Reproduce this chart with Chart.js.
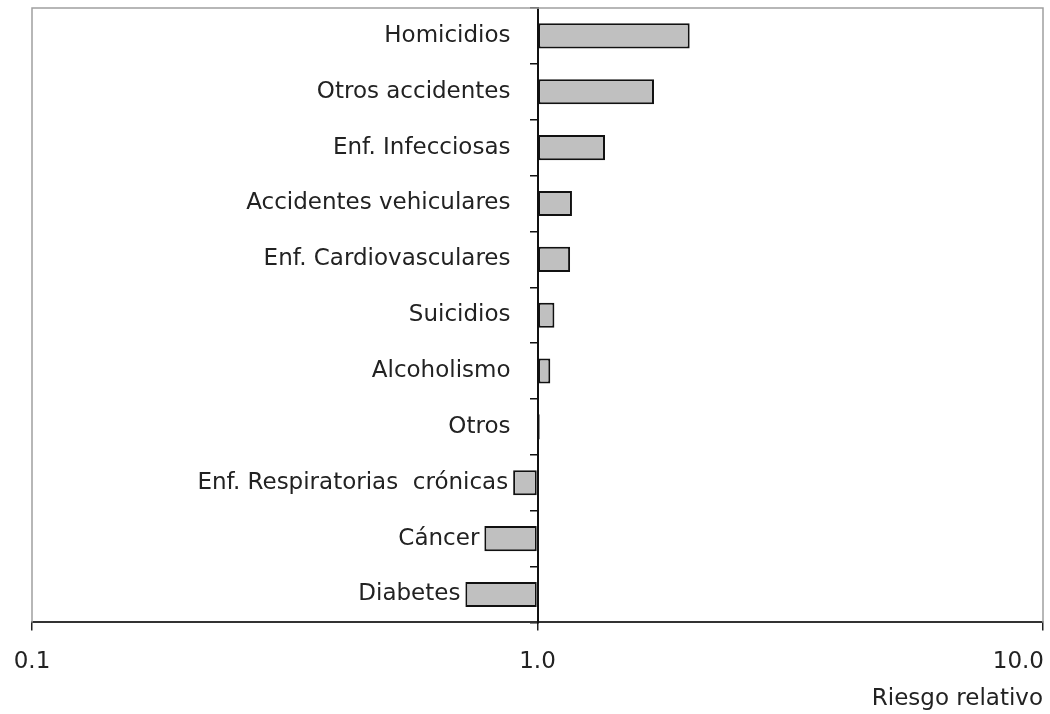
<!DOCTYPE html>
<html>
<head>
<meta charset="utf-8">
<script src="https://cdn.jsdelivr.net/npm/chart.js@4"></script>
<style>
    html, body { margin: 0; padding: 0; background: #fff; }
    #wrap { width: 1050px; height: 714px; }
</style>
</head>
<body>
<div id="wrap"><canvas id="riskChart"></canvas></div>
<script>
// Categories (top to bottom) and relative risk values
const causes = ['Homicidios', 'Otros accidentes', 'Enf. Infecciosas', 'Accidentes vehiculares',
    'Enf. Cardiovasculares', 'Suicidios', 'Alcoholismo', 'Otros',
    'Enf. Respiratorias  crónicas', 'Cáncer', 'Diabetes'];
const riskValues = [2.0, 1.70, 1.36, 1.17, 1.16, 1.08, 1.06, 1.01, 0.895, 0.785, 0.72];
const xTickValues = [0.1, 1, 10];
const xTickLabels = ['0.1', '1.0', '10.0'];
const baseValue = 1;

const fontFamily = '"DejaVu Sans", Verdana, sans-serif';
const fontSize = 23;

// Frame round the plot area, category labels left of the axis at 1.0
// (pushed further left when a bar runs below 1), and the x tick labels
const framePlugin = {
    id: 'frame',
    beforeDatasetsDraw(chart) {
        const { ctx, chartArea: a } = chart;
        ctx.save();
        ctx.strokeStyle = '#a0a0a0';
        ctx.lineWidth = 1.5;
        ctx.beginPath();
        ctx.moveTo(a.left, a.bottom);
        ctx.lineTo(a.left, a.top);
        ctx.lineTo(a.right, a.top);
        ctx.lineTo(a.right, a.bottom);
        ctx.stroke();
        ctx.restore();
    },
    afterDraw(chart) {
        const { ctx } = chart;
        const xs = chart.scales.x;
        const ys = chart.scales.y;
        ctx.save();
        ctx.font = fontSize + 'px ' + fontFamily;
        ctx.fillStyle = '#222';
        ctx.textBaseline = 'middle';

        // category labels
        ctx.textAlign = 'right';
        const axisX = xs.getPixelForValue(baseValue);
        causes.forEach((c, i) => {
            const barLeft = xs.getPixelForValue(Math.min(riskValues[i], baseValue));
            const lx = Math.min(axisX - 27, barLeft - 5);
            ctx.fillText(c, lx, ys.getPixelForTick(i));
        });

        // x tick labels
        ctx.textAlign = 'center';
        xTickValues.forEach((v, i) => {
            const txt = xTickLabels[i];
            const w = ctx.measureText(txt).width;
            let px = xs.getPixelForValue(v);
            px = Math.min(px, chart.width - 6 - w / 2);
            px = Math.max(px, w / 2 + 4);
            ctx.fillText(txt, px, 662);
        });
        ctx.restore();
    }
};

document.addEventListener('DOMContentLoaded', function() {
    const ctx = document.getElementById('riskChart').getContext('2d');
    new Chart(ctx, {
        type: 'bar',
        data: {
            labels: causes,
            datasets: [{
                data: riskValues,
                base: baseValue,
                backgroundColor: '#c0c0c0',
                borderColor: '#111',
                borderWidth: 2,
                borderSkipped: false,
                categoryPercentage: 1,
                barPercentage: 0.45
            }]
        },
        options: {
            indexAxis: 'y',
            responsive: true,
            maintainAspectRatio: false,
            animation: false,
            layout: {
                padding: { left: 32, right: 7, top: 8, bottom: 1 }
            },
            plugins: {
                legend: { display: false },
                tooltip: { enabled: false }
            },
            scales: {
                x: {
                    type: 'logarithmic',
                    min: 0.1,
                    max: 10,
                    afterBuildTicks: function(scale) {
                        scale.ticks = xTickValues.map(v => ({ value: v }));
                    },
                    ticks: { display: false },
                    grid: {
                        drawOnChartArea: false,
                        drawTicks: true,
                        tickLength: 8,
                        color: '#222',
                        lineWidth: 1.5
                    },
                    border: { color: '#333', width: 2 },
                    title: {
                        display: true,
                        text: 'Riesgo relativo',
                        align: 'end',
                        color: '#222',
                        font: { family: fontFamily, size: fontSize },
                        padding: { top: 55, bottom: 0 }
                    }
                },
                y: {
                    position: { x: baseValue },
                    afterFit: function(scale) {
                        scale.paddingTop = 0;
                        scale.paddingBottom = 0;
                    },
                    grid: {
                        drawOnChartArea: false,
                        drawTicks: true,
                        tickLength: 7,
                        color: '#111',
                        lineWidth: 1.5,
                        offset: true
                    },
                    border: { color: '#111', width: 2 },
                    ticks: { display: false }
                }
            }
        },
        plugins: [framePlugin]
    });
});
</script>
</body>
</html>
